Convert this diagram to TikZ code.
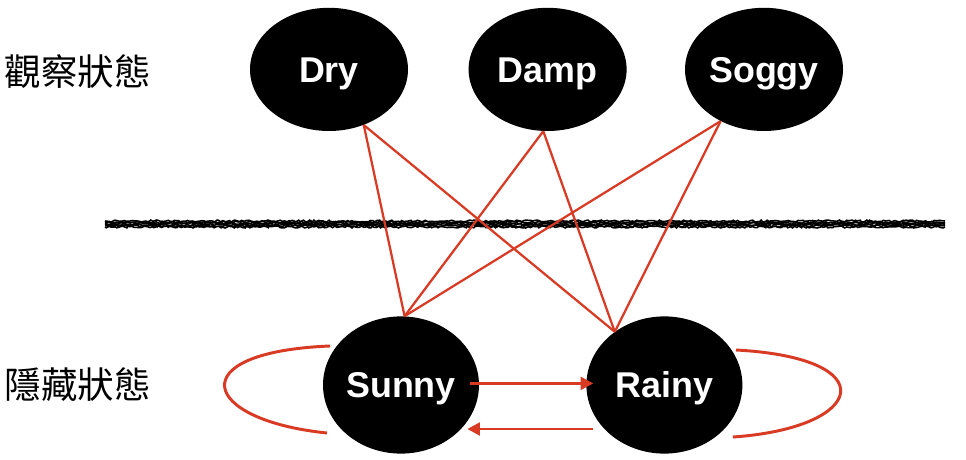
\documentclass[tikz,border=0pt]{standalone}
\usepackage{fontspec}
\setmainfont{Liberation Sans}
\newfontfamily\cjk{Noto Sans CJK TC}
\usetikzlibrary{shapes.geometric,arrows.meta,decorations.pathmorphing}
\definecolor{linkred}{RGB}{217,58,36}

\begin{document}
\begin{tikzpicture}[
    state/.style={ellipse,fill=black,text=white,inner sep=0pt,
      minimum width=3.95cm,minimum height=3.08cm,
      text height=18.3pt,text depth=0pt,
      font=\fontsize{25.5}{30}\selectfont\bfseries},
    hidden/.style={state,minimum width=3.9cm,minimum height=3.43cm},
    link/.style={linkred,line width=1.6pt},
    trans/.style={linkred,line width=2.1pt,-{Triangle[length=9pt,width=9pt]}},
    selfloop/.style={linkred,line width=2.1pt},
    tag/.style={font=\cjk\fontsize{26}{30}\selectfont},
    rough/.style={line width=1.1pt,decorate,
      decoration={random steps,segment length=1.5pt,amplitude=0.7pt}}]
  \useasboundingbox (0,0) rectangle (24.15,11.475);
  \node[tag] (obs) at (1.95,9.675) {觀察狀態};
  \node[tag] (hid) at (1.95,1.85) {隱藏狀態};
  \node[state] (Dry) at (8.225,9.74) {Dry};
  \node[state] (Damp) at (13.69,9.74) {Damp};
  \node[state] (Soggy) at (19.1,9.74) {Soggy};
  \node[hidden] (Sunny) at (10.025,1.85) {Sunny};
  \node[hidden] (Rainy) at (16.61,1.85) {Rainy};
  % rough divider
  \coordinate (divL) at (2.625,5.875);
  \coordinate (divR) at (23.625,5.875);
  \foreach \dy in {-0.075,-0.045,-0.015,0.015,0.045,0.075}
    \draw[rough] ([yshift=\dy cm]divL) -- ([yshift=\dy cm]divR);
  \path (Dry.-58) edge[link] (Sunny.87) edge[link] (Rainy.133)
    (Damp.-94) edge[link] (Sunny.87) edge[link] (Rainy.133)
    (Soggy.-130) edge[link] (Sunny.87) edge[link] (Rainy.133);
  \draw[trans] ([shift={(-0.22,0.04)}]Sunny.east) -- ([shift={(0.18,0.04)}]Rainy.west);
  \draw[trans] ([shift={(0.175,-1.1)}]Rainy.west) -- ([shift={(-0.3,-1.1)}]Sunny.east);
  \draw[selfloop] ([shift={(-1.775,0.975)}]Sunny.center)
    .. controls +(-3.75,-0.15) and +(-3.175,0.325) .. ([shift={(-1.85,-1.2)}]Sunny.center);
  \draw[selfloop] ([shift={(1.79,0.875)}]Rainy.center)
    .. controls +(3.75,-0.2) and +(3.325,0.225) .. ([shift={(1.71,-1.3)}]Rainy.center);
\end{tikzpicture}
\end{document}
